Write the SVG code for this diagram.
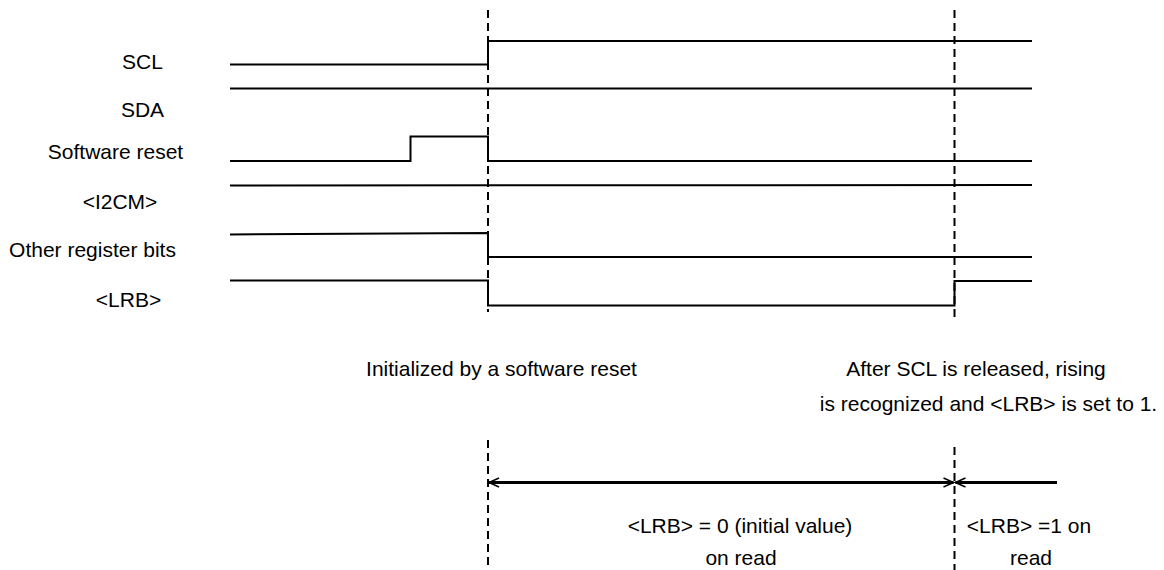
<svg xmlns="http://www.w3.org/2000/svg" width="1164" height="570" viewBox="0 0 1164 570">
<style>
text{font-family:"Liberation Sans",Arial,sans-serif;font-size:21px;fill:#000}
.lbl{text-anchor:middle}
.sig{fill:none;stroke:#000;stroke-width:2}
.dash{fill:none;stroke:#000;stroke-width:2;stroke-dasharray:8 5}
.arr{fill:none;stroke:#000;stroke-width:3}
</style>
<defs>
<marker id="ah" viewBox="-12 -6 14 12" refX="0" refY="0" markerWidth="14" markerHeight="12" markerUnits="userSpaceOnUse" orient="auto-start-reverse">
<path d="M-10,-4.5 L0,0 L-10,4.5" fill="none" stroke="#000" stroke-width="1.5"/>
</marker>
</defs>
<rect width="1164" height="570" fill="#fff"/>
<g id="guides">
<line class="dash" x1="488" y1="10" x2="488" y2="312"/>
<line class="dash" x1="954.5" y1="10" x2="954.5" y2="322"/>
<line class="dash" x1="488" y1="440" x2="488" y2="570"/>
<line class="dash" x1="954.5" y1="447" x2="954.5" y2="570"/>
</g>
<g id="scl">
<text class="lbl" x="142.5" y="69">SCL</text>
<polyline class="sig" points="230,64.5 488,64.5 488,41 1032,41"/>
</g>
<g id="sda">
<text class="lbl" x="142.5" y="117">SDA</text>
<polyline class="sig" points="230,88.5 1032,88.5"/>
</g>
<g id="swreset">
<text class="lbl" x="115.5" y="159">Software reset</text>
<polyline class="sig" points="230,161 410.5,161 410.5,136.5 488,136.5 488,161 1032,161"/>
</g>
<g id="i2cm">
<text class="lbl" x="120" y="209">&lt;I2CM&gt;</text>
<polyline class="sig" points="230,185.5 1032,185"/>
</g>
<g id="other">
<text class="lbl" x="92.5" y="256.5">Other register bits</text>
<polyline class="sig" points="230,234.5 488,233 488,257 1032,257"/>
</g>
<g id="lrb">
<text class="lbl" x="128.5" y="306.5">&lt;LRB&gt;</text>
<polyline class="sig" points="230,280.5 488,280.5 488,305.5 954.5,305.5 954.5,281 1032,281"/>
</g>
<g id="note-init">
<text class="lbl" x="501.5" y="376">Initialized by a software reset</text>
</g>
<g id="note-after">
<text class="lbl" x="976" y="376">After SCL is released, rising</text>
<text class="lbl" x="988.5" y="411">is recognized and &lt;LRB&gt; is set to 1.</text>
</g>
<g id="connectors">
<line class="arr" x1="489" y1="482.5" x2="953.5" y2="482.5" marker-start="url(#ah)" marker-end="url(#ah)"/>
<line class="arr" x1="1057" y1="482.5" x2="955.5" y2="482.5" marker-end="url(#ah)"/>
</g>
<g id="period0">
<text class="lbl" x="740" y="533">&lt;LRB&gt; = 0 (initial value)</text>
<text class="lbl" x="741" y="565">on read</text>
</g>
<g id="period1">
<text class="lbl" x="1029" y="533">&lt;LRB&gt; =1 on</text>
<text class="lbl" x="1031" y="565">read</text>
</g>
</svg>
